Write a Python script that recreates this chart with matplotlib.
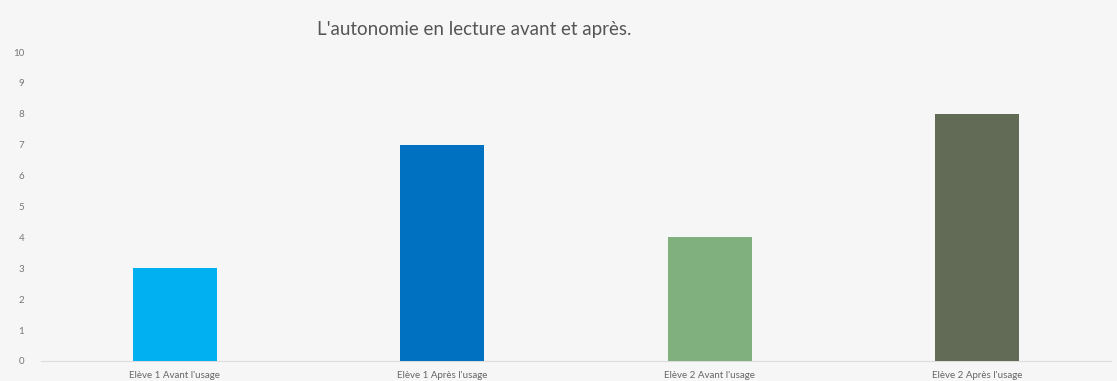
import matplotlib.pyplot as plt

categories = ["Elève 1 Avant l'usage", "Elève 1 Après l'usage",
              "Elève 2 Avant l'usage", "Elève 2 Après l'usage"]
values = [3, 7, 4, 8]
colors = ["#00b0f0", "#0070c0", "#7fb07d", "#626b55"]
yticks = list(range(0, 11))

plt.rcParams['font.family'] = ['Lato', 'DejaVu Sans']

fig = plt.figure(figsize=(11.17, 3.81), dpi=100, facecolor="#f6f6f6")
ax = fig.add_axes([41 / 1117, 20 / 381, 1070 / 1117, 309 / 381])
ax.set_facecolor("#f6f6f6")

x = list(range(len(categories)))
ax.bar(x, values, width=0.314, color=colors, zorder=3)

ax.set_xlim(-0.5, len(categories) - 0.5)
ax.set_ylim(0, 10)
ax.set_yticks(yticks)
ax.set_xticks(x)
ax.set_xticklabels(categories)
ax.tick_params(axis='y', length=0, pad=12, labelsize=7, labelcolor="#777777")
ax.tick_params(axis='x', length=0, pad=7, labelsize=7, labelcolor="#666666")

for s in ['top', 'right', 'left']:
    ax.spines[s].set_visible(False)
ax.spines['bottom'].set_color("#dddddd")
ax.spines['bottom'].set_linewidth(0.8)

fig.text(474 / 1117, 1 - 30 / 381, "L'autonomie en lecture avant et après.",
         ha='center', va='center', fontsize=13.5, color="#555555")

fig.savefig("out.png", dpi=100, facecolor=fig.get_facecolor())
